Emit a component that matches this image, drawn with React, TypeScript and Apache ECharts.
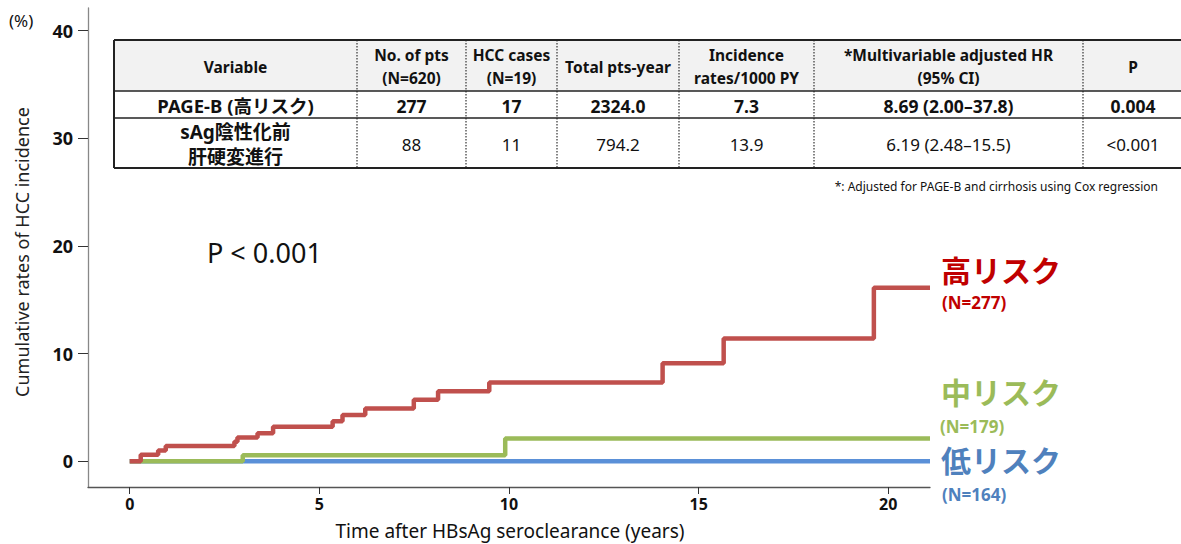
import React, { useEffect, useRef } from "react";
import * as echarts from "echarts";

// ---- data ----
const xTicks = [0, 5, 10, 15, 20];
const yTicks = [0, 10, 20, 30, 40];

const highTimes = [0, 0.29, 0.75, 0.95, 2.76, 2.84, 3.37, 3.78, 5.35, 5.61, 6.21, 7.49, 8.13, 9.48, 14.05, 15.66, 19.62, 21.1];
const highValues = [0, 0.6, 1.0, 1.4, 1.8, 2.2, 2.6, 3.2, 3.7, 4.3, 4.9, 5.7, 6.5, 7.3, 9.1, 11.4, 16.1, 16.1];

const midTimes = [0, 2.98, 9.9, 21.1];
const midValues = [0, 0.55, 2.1, 2.1];

const lowTimes = [0, 21.1];
const lowValues = [0, 0];

const groupNames = ["高リスク", "中リスク", "低リスク"];
const groupNs = ["(N=277)", "(N=179)", "(N=164)"];

const tableHeader = [
  "Variable",
  "No. of pts\n(N=620)",
  "HCC cases\n(N=19)",
  "Total pts-year",
  "Incidence\nrates/1000 PY",
  "*Multivariable adjusted HR\n(95% CI)",
  "P",
];
const tableRow1 = ["PAGE-B (高リスク)", "277", "17", "2324.0", "7.3", "8.69 (2.00–37.8)", "0.004"];
const tableRow2 = ["sAg陰性化前\n肝硬変進行", "88", "11", "794.2", "13.9", "6.19 (2.48–15.5)", "<0.001"];
const footnote = "*: Adjusted for PAGE-B and cirrhosis using Cox regression";
const pText = "P < 0.001";

// ---- layout (positions / styles) ----
const FONT = "'Noto Sans', 'Noto Sans CJK JP', sans-serif";
const colEdges = [114, 357, 466, 557, 679, 814, 1083, 1183];
const rowEdges = [40, 91, 118, 168];
const RED = "#C0504D";
const GREEN = "#9BBB59";
const BLUE = "#5A90D8";

const zip = (a: number[], b: number[]) => a.map((v, i) => [v, b[i]]);

function buildTable(): any[] {
  const els: any[] = [];
  els.push({
    type: "rect",
    shape: { x: colEdges[0], y: rowEdges[0], width: 1181 - colEdges[0], height: rowEdges[1] - rowEdges[0] },
    style: { fill: "#F2F2F2" },
    z: 1,
  });
  rowEdges.forEach((y, i) => {
    els.push({
      type: "line",
      shape: { x1: colEdges[0], y1: y, x2: 1181, y2: y },
      style: { stroke: "#222", lineWidth: i === 0 || i === 3 ? 2 : 1.6 },
      z: 3,
    });
  });
  els.push({
    type: "line",
    shape: { x1: colEdges[0], y1: rowEdges[0], x2: colEdges[0], y2: rowEdges[3] },
    style: { stroke: "#222", lineWidth: 2 },
    z: 3,
  });
  for (let i = 1; i < colEdges.length - 1; i++) {
    els.push({
      type: "line",
      shape: { x1: colEdges[i], y1: rowEdges[0], x2: colEdges[i], y2: rowEdges[3] },
      style: { stroke: "#333", lineWidth: 1.2, lineDash: [1.5, 1.5] },
      z: 2,
    });
  }
  const rows = [tableHeader, tableRow1, tableRow2];
  rows.forEach((row, r) => {
    const cy = (rowEdges[r] + rowEdges[r + 1]) / 2;
    row.forEach((txt, c) => {
      const cx = (colEdges[c] + colEdges[c + 1]) / 2;
      let fontSize = 15.5;
      let fontWeight: any = "bold";
      let lineHeight = 23;
      if (r === 1) {
        fontSize = c === 0 ? 18.5 : 17.5;
      } else if (r === 2) {
        fontWeight = "normal";
        fontSize = 17;
        if (c === 0) {
          fontSize = 19;
          lineHeight = 25;
          fontWeight = "bold";
        }
      }
      els.push({
        type: "text",
        x: cx,
        y: cy + 1,
        z: 4,
        style: {
          text: txt,
          fontFamily: FONT,
          fontSize,
          fontWeight,
          lineHeight,
          fill: "#111",
          align: "center",
          verticalAlign: "middle",
        },
      });
    });
  });
  els.push({
    type: "text",
    x: 1158,
    y: 186,
    style: { text: footnote, fontFamily: FONT, fontSize: 12, fill: "#111", align: "right", verticalAlign: "middle" },
  });
  return els;
}

export default function App() {
  const ref = useRef<HTMLDivElement>(null);
  useEffect(() => {
    if (!ref.current) return;
    const chart = echarts.init(ref.current, undefined, { renderer: "svg" });
    const labelColors = ["#C00000", GREEN, "#4F81BD"];
    const nameYs = [270, 392, 460];
    const nYs = [302, 426, 494];
    const nXs = [942, 940, 942];
    const graphics: any[] = [
      ...buildTable(),
      {
        type: "text",
        x: 207,
        y: 252,
        style: { text: pText, fontFamily: FONT, fontSize: 27, fill: "#111", align: "left", verticalAlign: "middle" },
      },
      {
        type: "text",
        x: 9,
        y: 20,
        style: { text: "(%)", fontFamily: FONT, fontSize: 17, fill: "#111", align: "left", verticalAlign: "middle" },
      },
      {
        type: "text",
        x: 22,
        y: 252,
        rotation: Math.PI / 2,
        style: {
          text: "Cumulative rates of HCC incidence",
          fontFamily: FONT,
          fontSize: 18,
          fill: "#222",
          align: "center",
          verticalAlign: "middle",
        },
      },
      {
        type: "text",
        x: 510,
        y: 530.5,
        style: {
          text: "Time after HBsAg seroclearance (years)",
          fontFamily: FONT,
          fontSize: 19,
          fill: "#111",
          align: "center",
          verticalAlign: "middle",
        },
      },
    ];
    groupNames.forEach((name, i) => {
      graphics.push({
        type: "text",
        x: 941,
        y: nameYs[i],
        style: {
          text: name,
          fontFamily: FONT,
          fontSize: 30,
          fontWeight: "bold",
          fill: labelColors[i],
          align: "left",
          verticalAlign: "middle",
        },
      });
      graphics.push({
        type: "text",
        x: nXs[i],
        y: nYs[i],
        style: {
          text: groupNs[i],
          fontFamily: FONT,
          fontSize: 17,
          fontWeight: "bold",
          fill: labelColors[i],
          align: "left",
          verticalAlign: "middle",
        },
      });
    });

    chart.setOption({
      animation: false,
      backgroundColor: "#fff",
      grid: { left: 88, right: 251, top: 8, bottom: 57, containLabel: false },
      xAxis: {
        type: "value",
        min: -1.1,
        max: 21.1,
        splitLine: { show: false },
        axisLine: { show: true, onZero: false, lineStyle: { color: "#555", width: 1.3 } },
        axisTick: { show: true, customValues: xTicks, length: 7, lineStyle: { color: "#333" } },
        axisLabel: {
          customValues: xTicks,
          fontFamily: FONT,
          fontSize: 16,
          fontWeight: "bold",
          color: "#111",
          margin: 9,
        },
      },
      yAxis: {
        type: "value",
        min: -2.4,
        max: 42.1,
        splitLine: { show: false },
        axisLine: { show: true, onZero: false, lineStyle: { color: "#888", width: 1.3 } },
        axisTick: { show: true, customValues: yTicks, length: 10, lineStyle: { color: "#333" } },
        axisLabel: {
          customValues: yTicks,
          fontFamily: FONT,
          fontSize: 18,
          fontWeight: "bold",
          color: "#111",
          margin: 15,
        },
      },
      series: [
        {
          type: "line",
          name: groupNames[2],
          data: zip(lowTimes, lowValues),
          step: "end",
          showSymbol: false,
          lineStyle: { color: BLUE, width: 4.5 },
          z: 2,
        },
        {
          type: "line",
          name: groupNames[1],
          data: zip(midTimes, midValues),
          step: "end",
          showSymbol: false,
          lineStyle: { color: GREEN, width: 4.5 },
          z: 3,
        },
        {
          type: "line",
          name: groupNames[0],
          data: zip(highTimes, highValues),
          step: "end",
          showSymbol: false,
          lineStyle: { color: RED, width: 4.5 },
          z: 4,
        },
      ],
      graphic: graphics,
    });
    return () => chart.dispose();
  }, []);
  return (
    <div
      ref={ref}
      style={{ position: "absolute", left: 0, top: 0, width: 1181, height: 544, background: "#fff" }}
    />
  );
}
